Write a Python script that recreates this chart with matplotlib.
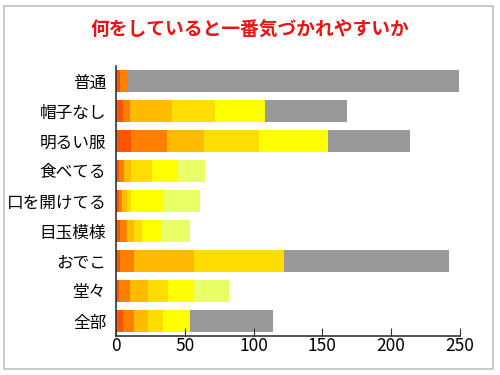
import matplotlib
matplotlib.use("Agg")
import matplotlib.pyplot as plt
from matplotlib.patches import Rectangle

plt.rcParams['font.family'] = ['Noto Sans CJK JP', 'DejaVu Sans']

title = "何をしていると一番気づかれやすいか"
categories = ["普通", "帽子なし", "明るい服", "食べてる", "口を開けてる",
              "目玉模様", "おでこ", "堂々", "全部"]

# stacked segments, one list per series (order: left to right)
s_red    = [3, 5, 11, 2, 2, 3, 3, 2, 5]
s_orange = [6, 5, 26, 4, 2, 5, 10, 8, 8]
s_amber  = [0, 31, 27, 5, 4, 5, 44, 13, 10]
s_gold   = [0, 31, 40, 15, 3, 6, 65, 15, 11]
s_yellow = [0, 36, 50, 19, 24, 14, 0, 19, 20]
s_lime   = [0, 0, 0, 20, 26, 21, 0, 25, 0]
s_gray   = [240, 60, 60, 0, 0, 0, 120, 0, 60]

series = [s_red, s_orange, s_amber, s_gold, s_yellow, s_lime, s_gray]
colors = ['#FF5500', '#FF8000', '#FFBB00', '#FFDD00', '#FFFF00', '#E8FF66', '#999999']

xticks = [0, 50, 100, 150, 200, 250]

fig = plt.figure(figsize=(5, 3.75), dpi=100)
ax = fig.add_axes([116 / 500, 1 - 336 / 375, 344 / 500, 270 / 375])

# light grey frame around the whole picture
fig.patches.append(Rectangle((4 / 500, 6 / 375), 489 / 500, 363 / 375,
                             transform=fig.transFigure, fill=False,
                             edgecolor='#c0c0c0', linewidth=1.2))

y = list(range(len(categories)))
left = [0] * len(categories)
for vals, c in zip(series, colors):
    ax.barh(y, vals, left=left, height=0.73, color=c, edgecolor='none')
    left = [l + v for l, v in zip(left, vals)]

ax.set_ylim(len(categories) - 0.5, -0.5)
ax.set_xlim(0, 250)
ax.set_yticks(y)
ax.set_yticklabels(categories, fontsize=12)
ax.set_xticks(xticks)
ax.set_xticklabels([str(t) for t in xticks], fontsize=12.5)
ax.tick_params(axis='y', length=0, pad=7)
ax.tick_params(axis='x', direction='in', length=6, color='#333333', pad=1)

for s in ['top', 'right']:
    ax.spines[s].set_visible(False)
for s in ['left', 'bottom']:
    ax.spines[s].set_color('#333333')
    ax.spines[s].set_linewidth(1.2)

fig.text(0.5, 1 - 29 / 375, title, ha='center', va='center',
         color='#EE1111', fontsize=13.5, fontweight='bold')

fig.savefig("out.png", dpi=100)
